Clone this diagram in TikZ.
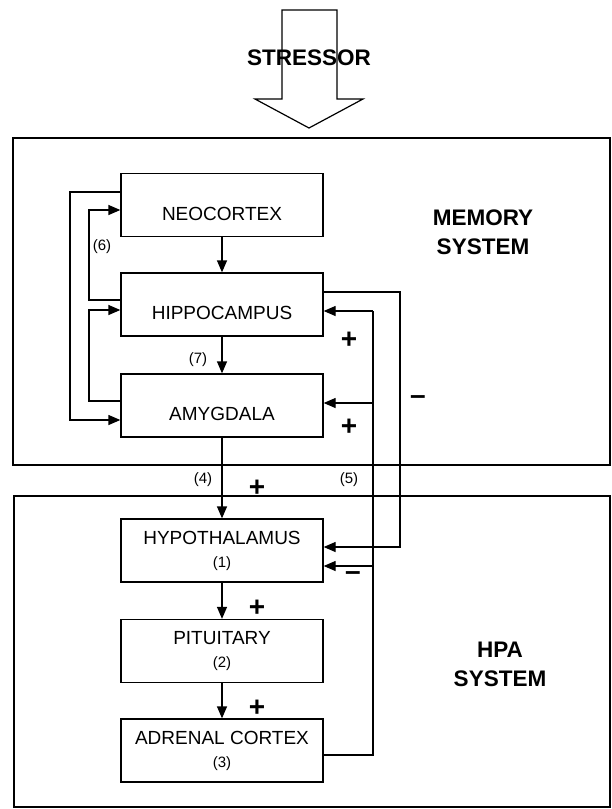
\documentclass[tikz,border=0pt]{standalone}
\usepackage{fontspec}
\setmainfont{Liberation Sans}
\usetikzlibrary{arrows.meta}
\begin{document}
\begin{tikzpicture}[x=1pt,y=-1pt,
  line width=1.3pt,
  arr/.style={-{Triangle[length=12pt,width=10pt]}},
  frame/.style={draw,inner sep=0pt,line width=1.2pt},
  regbox/.style={draw,minimum width=202pt,minimum height=63pt,inner sep=0pt,font=\fontsize{19}{23}\selectfont},
  onebox/.style={regbox,text height=30pt,text depth=0pt},
  twobox/.style={regbox,align=center},
  title/.style={font=\fontsize{22.5}{29}\selectfont\bfseries,align=center},
  sign/.style={font=\fontsize{28}{28}\selectfont\bfseries,inner sep=0pt},
  num/.style={font=\fontsize{15}{18}\selectfont,inner sep=0pt},
]
\useasboundingbox (0,0) rectangle (612,809);

% frames
\node[frame,minimum width=597pt,minimum height=327pt] (memframe) at (311.5,301.5) {};
\node[frame,minimum width=596pt,minimum height=311pt] (hpaframe) at (312,651.5) {};

% stressor arrow
\draw[line width=1.2pt,line join=miter] (282,10) -- (337,10) -- (337,99) -- (363,99) -- (309,128) -- (255,99) -- (282,99) -- cycle;
\node[title] (stressor) at (309,58) {STRESSOR};

\node[title] (memtitle) at (483,232) {MEMORY\\SYSTEM};
\node[title] (hpatitle) at (500,664) {HPA\\SYSTEM};

% boxes
\node[onebox] (neo) at (222,205) {NEOCORTEX};
\node[onebox] (hip) at (222,304.5) {HIPPOCAMPUS};
\node[onebox] (amy) at (222,405.5) {AMYGDALA};
\node[twobox] (hyp) at (222,550.5) {HYPOTHALAMUS\\{\fontsize{15}{23}\selectfont (1)}};
\node[twobox] (pit) at (222,651) {PITUITARY\\{\fontsize{15}{23}\selectfont (2)}};
\node[twobox] (adr) at (222,750.5) {ADRENAL CORTEX\\{\fontsize{15}{23}\selectfont (3)}};

% vertical chain
\draw[arr] (neo) -- (hip);
\draw[arr] (hip) -- (amy);
\draw[arr] (amy) -- (hyp);
\draw[arr] (hyp) -- (pit);
\draw[arr] (pit) -- (adr);

% left loops
\draw[arr] (neo.west |- 0,192) -- (70,192) -- (70,420) -- (amy.west |- 0,420);
\draw[arr] (hip.west |- 0,300) -- (89,300) -- (89,210) -- (neo.west |- 0,210);
\draw[arr] (amy.west |- 0,401) -- (89,401) -- (89,310) -- (hip.west |- 0,310);

% right loops
\draw[arr] (hip.east |- 0,292) -- (400,292) -- (400,547) -- (hyp.east |- 0,547);
\coordinate (fbtop) at (373,311);
\coordinate (fbamy) at (373,403);
\coordinate (fbhyp) at (373,566);
\draw (adr.east |- 0,755) -- (373,755) -- (fbtop);
\draw[arr] (fbtop) -- (hip.east |- fbtop);
\draw[arr] (fbamy) -- (amy.east |- fbamy);
\draw[arr] (fbhyp) -- (hyp.east |- fbhyp);

% labels
\node[num] (l6) at (102,247) {(6)};
\node[num] (l7) at (198,360) {(7)};
\node[num] (l4) at (203,480) {(4)};
\node[num] (l5) at (349,480) {(5)};

\node[sign] (p1) at (257,488) {+};
\node[sign] (p2) at (349,340) {+};
\node[sign] (p3) at (349,427) {+};
\node[sign] (p4) at (257,608) {+};
\node[sign] (p5) at (257,708) {+};
\node[sign] (m1) at (418,400) {\textendash};
\node[sign] (m2) at (353,576) {\textendash};
\end{tikzpicture}
\end{document}
